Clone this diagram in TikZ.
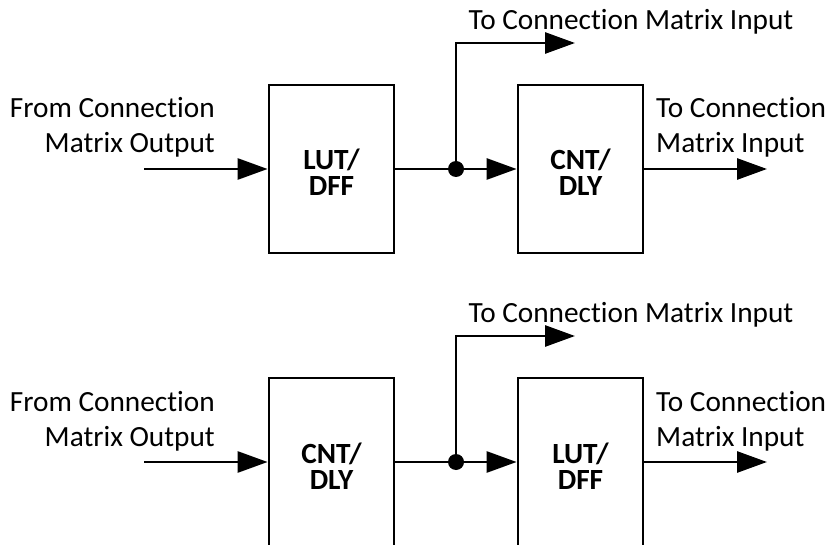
\documentclass[tikz,border=0pt]{standalone}
\usepackage{fontspec}
\setmainfont{Carlito}[RawFeature=-liga]
\usetikzlibrary{arrows.meta}
\tikzset{
  blk/.style={draw, line width=2.8pt, minimum width=125pt, minimum height=168pt, inner sep=0pt},
  wire/.style={line width=2.8pt},
  arr/.style={wire, -{Triangle[length=30pt,width=21pt]}},
  lbl/.style={inner sep=0pt, font=\fontsize{29.3}{34}\selectfont},
  blbl/.style={inner sep=0pt, align=center, font=\fontsize{29.3}{26}\selectfont\bfseries},
  dotn/.style={circle, fill=black, minimum size=16pt, inner sep=0pt},
}
\begin{document}
\begin{tikzpicture}[x=1pt,y=-1pt]
\useasboundingbox (0,0) rectangle (830,545);
\foreach \oy/\ta/\tb/\tc/\td/\s in {0/{LUT/}/DFF/{CNT/}/DLY/t, 293/{CNT/}/DLY/{LUT/}/DFF/b}{
  \begin{scope}[yshift=-\oy pt]
    \node[blk] (\s1) at (331.5,169) {};
    \node[blk] (\s2) at (580.5,169) {};
    \node[blbl, anchor=base] (\s1t) at (331.5,196) {\ta\\\tb};
    \node[blbl, anchor=base] (\s2t) at (580.5,196) {\tc\\\td};
    \coordinate (\s in) at (144,169);
    \node[dotn] (\s j) at (456,169) {};
    \coordinate (\s up) at (456,43);
    \coordinate (\s br) at (575,43);
    \coordinate (\s out) at (767,169);
    \draw[arr] (\s in) -- (\s1.west);
    \draw[wire] (\s1.east) -- (\s j.center);
    \draw[arr] (\s j.center) -- (\s2.west);
    \draw[arr] (\s j.center) -- (\s up) -- (\s br);
    \draw[arr] (\s2.east) -- (\s out);
    \node[lbl, anchor=base east] (\s fa) at (215,118) {From Connection};
    \node[lbl, anchor=base east] (\s fb) at (215,153) {Matrix Output};
    \node[lbl, anchor=base] (\s top) at (631,30) {To Connection Matrix Input};
    \node[lbl, anchor=base west] (\s ra) at (656,118) {To Connection};
    \node[lbl, anchor=base west] (\s rb) at (656,153) {Matrix Input};
  \end{scope}
}
\end{tikzpicture}
\end{document}
